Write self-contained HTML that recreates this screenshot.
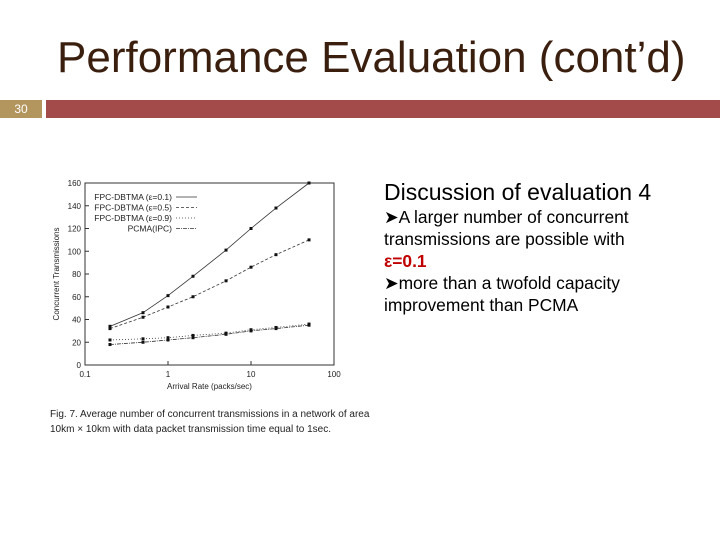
<!DOCTYPE html>
<html><head><meta charset="utf-8"><style>
body{margin:0;width:720px;height:540px;background:#fff;position:relative;overflow:hidden;font-family:"Liberation Sans",sans-serif}
.abs{position:absolute}
</style></head><body>
<div class="abs" style="left:57px;top:33px;font-size:44px;color:#3a1f0f;white-space:nowrap">Performance Evaluation (cont’d)</div>
<div class="abs" style="left:0;top:100px;width:42px;height:18px;background:#b3955e;color:#fff;font-size:12px;text-align:center;line-height:18px">30</div>
<div class="abs" style="left:46px;top:100px;width:674px;height:18px;background:#a34a4a"></div>
<div class="abs" style="left:384px;top:179px;width:285px;font-size:17.4px;line-height:22px;color:#000">
<div style="font-size:23px;line-height:27px;margin-bottom:0px;white-space:nowrap">Discussion of evaluation 4</div>
<div>&#10148;A larger number of concurrent transmissions are possible with <span style="color:#c00000;font-weight:bold">ε=0.1</span></div>
<div>&#10148;more than a twofold capacity improvement than PCMA</div>
</div>
<svg class="abs" style="left:0;top:0" width="720" height="540" font-family="Liberation Sans, sans-serif">
<g id="axes"></g><g id="series"></g>
<text x="50" y="417" font-size="10" fill="#222">Fig. 7. Average number of concurrent transmissions in a network of area</text>
<text x="50" y="432" font-size="10" fill="#222">10km × 10km with data packet transmission time equal to 1sec.</text>
</svg>
<script>
const xs=[0.2,0.5,1,2,5,10,20,50];
const eps01=[34,46,61,78,101,120,138,160];
const eps05=[32,42,51,60,74,86,97,110];
const eps09=[22,23,24,26,28,31,33,36];
const pcma=[18,20,22,24,27,30,32,35];
const yTicks=[0,20,40,60,80,100,120,140,160];
const xTicks=[0.1,1,10,100];
const labels=['FPC-DBTMA (ε=0.1)','FPC-DBTMA (ε=0.5)','FPC-DBTMA (ε=0.9)','PCMA(IPC)'];
const X0=85,X1=334,Y0=365,Y1=183;
const sx=v=>X0+(Math.log10(v)+1)/3*(X1-X0);
const sy=v=>Y0-v/160*(Y0-Y1);
const NS='http://www.w3.org/2000/svg';
function mk(t,a,p){const e=document.createElementNS(NS,t);for(const k in a)e.setAttribute(k,a[k]);p.appendChild(e);return e;}
const ax=document.getElementById('axes'),sg=document.getElementById('series');
const frame=mk('rect',{x:X0,y:Y1,width:X1-X0,height:Y0-Y1,fill:'none',stroke:'#333','stroke-width':1},ax);


yTicks.forEach(v=>{
 mk('line',{x1:X0,x2:X0+4,y1:sy(v),y2:sy(v),stroke:'#333'},ax);
 const t=mk('text',{x:X0-4,y:sy(v)+3,'font-size':8,'text-anchor':'end',fill:'#222'},ax);t.textContent=v;
 
 
});
xTicks.forEach(v=>{
 mk('line',{x1:sx(v),x2:sx(v),y1:Y0,y2:Y0-4,stroke:'#333'},ax);
 const t=mk('text',{x:sx(v),y:Y0+12,'font-size':8,'text-anchor':'middle',fill:'#222'},ax);t.textContent=v;
 
 
});
const xt=mk('text',{x:(X0+X1)/2,y:389,'font-size':8,'text-anchor':'middle',fill:'#222'},ax);xt.textContent='Arrival Rate (packs/sec)';


const yt=mk('text',{x:0,y:0,'font-size':8,'text-anchor':'middle',fill:'#222',transform:`translate(59,${(Y0+Y1)/2}) rotate(-90)`},ax);yt.textContent='Concurrent Transmissions';


const series=[eps01,eps05,eps09,pcma];
const dashes=['none','3,2','1,2','4,1,1,1'];
series.forEach((d,i)=>{
 const p=mk('polyline',{points:xs.map((x,j)=>sx(x)+','+sy(d[j])).join(' '),fill:'none',stroke:'#333','stroke-width':0.8,'stroke-dasharray':dashes[i]},sg);
 
 
 xs.forEach((x,j)=>{const r=mk('rect',{x:sx(x)-1.5,y:sy(d[j])-1.5,width:3,height:3,fill:'#111'},sg);
 
 });
 const ly=197+i*10.5;
 const lt=mk('text',{x:172,y:ly+3,'font-size':8.5,'text-anchor':'end',fill:'#222'},sg);lt.textContent=labels[i];
 
 
 mk('line',{x1:176,x2:197,y1:ly,y2:ly,stroke:'#333','stroke-width':0.8,'stroke-dasharray':dashes[i]},sg);
});
</script>
</body></html>
